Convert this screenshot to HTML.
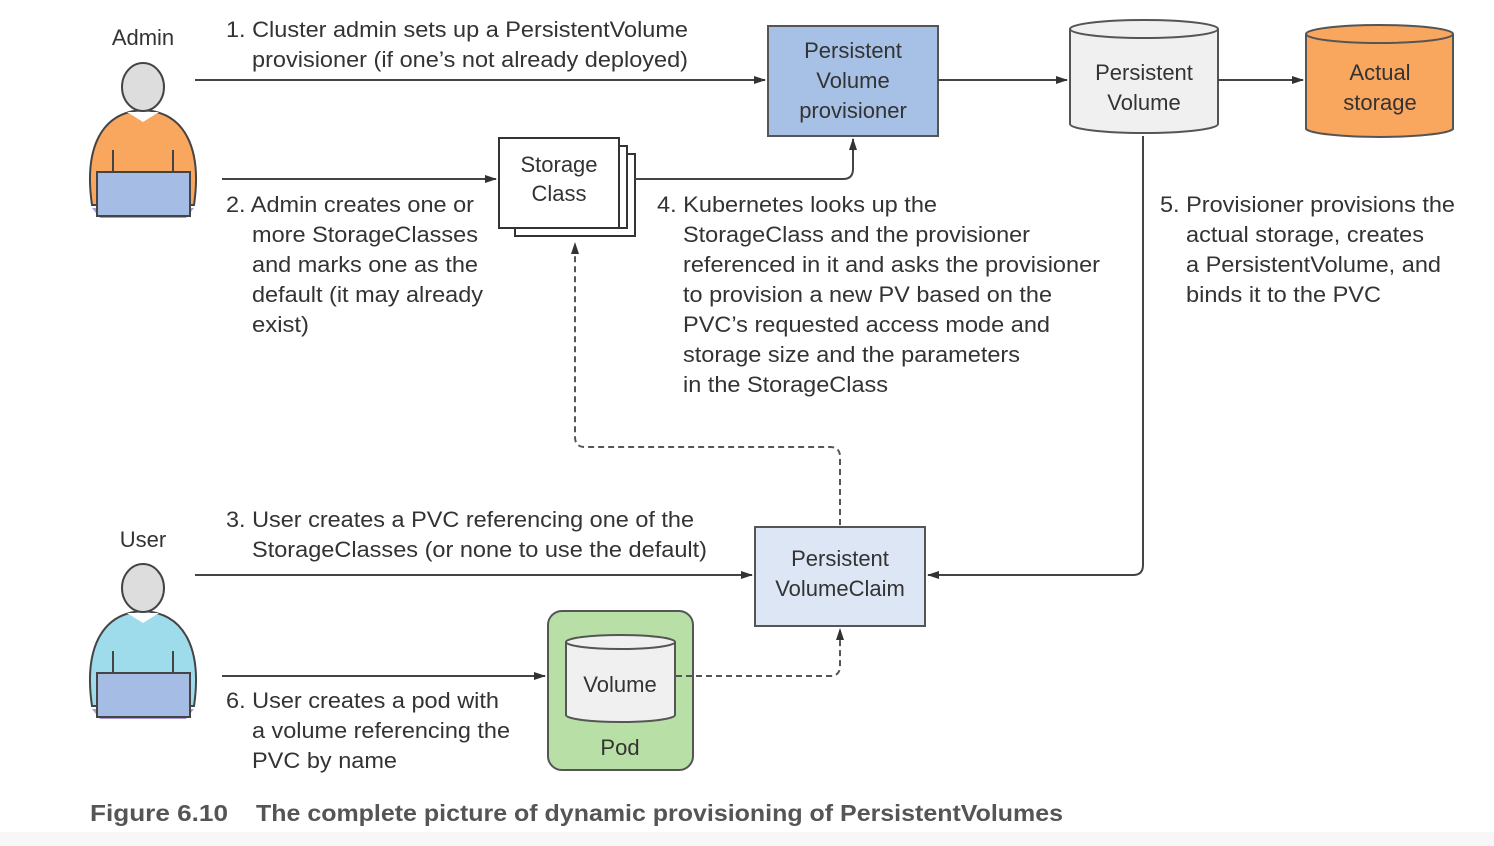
<!DOCTYPE html>
<html><head><meta charset="utf-8"><style>
html,body{margin:0;padding:0;background:#fff;}
svg{display:block;}
text{font-family:"Liberation Sans",sans-serif;fill:#333;font-size:22px;}
</style></head><body>
<svg width="1494" height="846" viewBox="0 0 1494 846" xmlns="http://www.w3.org/2000/svg">
<defs>
<marker id="a" markerWidth="12" markerHeight="10" refX="11" refY="5" orient="auto" markerUnits="userSpaceOnUse">
<path d="M0,1 L12,5 L0,9 z" fill="#333"/></marker>
</defs>
<rect x="0" y="832" width="1494" height="14" fill="#f7f7f7"/>

<g stroke="#444" stroke-width="2">
<path d="M92,205 C84,150 100,112 143,110 C186,112 202,150 194,205 Z" fill="#f9a65f"/>
<path d="M127,112 L143,122 L159,112 Z" fill="#fff" stroke="none"/>
<path d="M113,150 L113,172 M173,150 L173,172" fill="none"/>
<ellipse cx="143" cy="87" rx="21" ry="24" fill="#ddd"/>
<path d="M92,208 L194,208 L186,218 L100,218 Z" fill="#a999d8" stroke="none"/>
<rect x="97" y="172" width="93" height="44" fill="#a5bde4"/>
</g>
<text x="143" y="45" text-anchor="middle">Admin</text>

<g stroke="#444" stroke-width="2">
<path d="M92,706 C84,651 100,613 143,611 C186,613 202,651 194,706 Z" fill="#9edcec"/>
<path d="M127,613 L143,623 L159,613 Z" fill="#fff" stroke="none"/>
<path d="M113,651 L113,673 M173,651 L173,673" fill="none"/>
<ellipse cx="143" cy="588" rx="21" ry="24" fill="#ddd"/>
<path d="M92,709 L194,709 L186,719 L100,719 Z" fill="#a999d8" stroke="none"/>
<rect x="97" y="673" width="93" height="44" fill="#a5bde4"/>
</g>
<text x="143" y="547" text-anchor="middle">User</text>

<rect x="768" y="26" width="170" height="110" fill="#a7c0e6" stroke="#555" stroke-width="2"/>
<text x="853" y="58" text-anchor="middle">Persistent</text>
<text x="853" y="88" text-anchor="middle">Volume</text>
<text x="853" y="118" text-anchor="middle">provisioner</text>

<g stroke="#555" stroke-width="2">
<path d="M1070,29 L1070,124 A74,9 0 0 0 1218,124 L1218,29" fill="#f0f0f0"/>
<ellipse cx="1144" cy="29" rx="74" ry="9" fill="#f0f0f0"/>
<path d="M1306,34 L1306,129 A74,9 0 0 0 1453,129 L1453,34" fill="#f9a65f"/>
<ellipse cx="1379.5" cy="34" rx="73.5" ry="9" fill="#f9a65f"/>
</g>
<text x="1144" y="80" text-anchor="middle">Persistent</text>
<text x="1144" y="110" text-anchor="middle">Volume</text>
<text x="1380" y="80" text-anchor="middle">Actual</text>
<text x="1380" y="110" text-anchor="middle">storage</text>

<g stroke="#333" stroke-width="2" fill="#fff">
<rect x="515" y="154" width="120" height="82"/>
<rect x="507" y="146" width="120" height="82"/>
<rect x="499" y="138" width="120" height="90"/>
</g>
<text x="559" y="172" text-anchor="middle">Storage</text>
<text x="559" y="201" text-anchor="middle">Class</text>

<rect x="755" y="527" width="170" height="99" fill="#dce6f4" stroke="#555" stroke-width="2"/>
<text x="840" y="566" text-anchor="middle">Persistent</text>
<text x="840" y="596" text-anchor="middle">VolumeClaim</text>

<rect x="548" y="611" width="145" height="159" rx="14" fill="#b8dfa6" stroke="#555" stroke-width="2"/>
<g stroke="#555" stroke-width="2">
<path d="M566,642 L566,715 A54.5,7 0 0 0 675,715 L675,642" fill="#f0f0f0"/>
<ellipse cx="620.5" cy="642" rx="54.5" ry="7" fill="#f0f0f0"/>
</g>
<text x="620" y="692" text-anchor="middle">Volume</text>
<text x="620" y="755" text-anchor="middle">Pod</text>

<g stroke="#444" stroke-width="2" fill="none">
<path d="M195,80 L765,80" marker-end="url(#a)"/>
<path d="M938,80 L1067,80" marker-end="url(#a)"/>
<path d="M1218,80 L1303,80" marker-end="url(#a)"/>
<path d="M222,179 L496,179" marker-end="url(#a)"/>
<path d="M635,179 L843,179 Q853,179 853,169 L853,139" marker-end="url(#a)"/>
<path d="M1143,136 L1143,565 Q1143,575 1133,575 L928,575" marker-end="url(#a)"/>
<path d="M195,575 L752,575" marker-end="url(#a)"/>
<path d="M222,676 L545,676" marker-end="url(#a)"/>
</g>
<g stroke="#555" stroke-width="2" fill="none" stroke-dasharray="6,4">
<path d="M840,525 L840,457 Q840,447 830,447 L585,447 Q575,447 575,437 L575,243" marker-end="url(#a)"/>
<path d="M676,676 L830,676 Q840,676 840,666 L840,629" marker-end="url(#a)"/>
</g>

<g lengthAdjust="spacingAndGlyphs">
<text x="226" y="37" textLength="462" lengthAdjust="spacingAndGlyphs">1. Cluster admin sets up a PersistentVolume</text>
<text x="252" y="67" textLength="436" lengthAdjust="spacingAndGlyphs">provisioner (if one’s not already deployed)</text>
<text x="226" y="212" textLength="248" lengthAdjust="spacingAndGlyphs">2. Admin creates one or</text>
<text x="252" y="242" textLength="226" lengthAdjust="spacingAndGlyphs">more StorageClasses</text>
<text x="252" y="272" textLength="226" lengthAdjust="spacingAndGlyphs">and marks one as the</text>
<text x="252" y="302" textLength="231" lengthAdjust="spacingAndGlyphs">default (it may already</text>
<text x="252" y="332" textLength="57" lengthAdjust="spacingAndGlyphs">exist)</text>
<text x="657" y="212" textLength="280" lengthAdjust="spacingAndGlyphs">4. Kubernetes looks up the</text>
<text x="683" y="242" textLength="347" lengthAdjust="spacingAndGlyphs">StorageClass and the provisioner</text>
<text x="683" y="272" textLength="417" lengthAdjust="spacingAndGlyphs">referenced in it and asks the provisioner</text>
<text x="683" y="302" textLength="369" lengthAdjust="spacingAndGlyphs">to provision a new PV based on the</text>
<text x="683" y="332" textLength="367" lengthAdjust="spacingAndGlyphs">PVC’s requested access mode and</text>
<text x="683" y="362" textLength="337" lengthAdjust="spacingAndGlyphs">storage size and the parameters</text>
<text x="683" y="392" textLength="205" lengthAdjust="spacingAndGlyphs">in the StorageClass</text>
<text x="1160" y="212" textLength="295" lengthAdjust="spacingAndGlyphs">5. Provisioner provisions the</text>
<text x="1186" y="242" textLength="238" lengthAdjust="spacingAndGlyphs">actual storage, creates</text>
<text x="1186" y="272" textLength="255" lengthAdjust="spacingAndGlyphs">a PersistentVolume, and</text>
<text x="1186" y="302" textLength="195" lengthAdjust="spacingAndGlyphs">binds it to the PVC</text>
<text x="226" y="527" textLength="468" lengthAdjust="spacingAndGlyphs">3. User creates a PVC referencing one of the</text>
<text x="252" y="557" textLength="455" lengthAdjust="spacingAndGlyphs">StorageClasses (or none to use the default)</text>
<text x="226" y="708" textLength="273" lengthAdjust="spacingAndGlyphs">6. User creates a pod with</text>
<text x="252" y="738" textLength="258" lengthAdjust="spacingAndGlyphs">a volume referencing the</text>
<text x="252" y="768" textLength="145" lengthAdjust="spacingAndGlyphs">PVC by name</text>
</g>

<text x="90" y="821" textLength="138" lengthAdjust="spacingAndGlyphs" style="font-weight:bold;font-size:23px;fill:#555">Figure 6.10</text>
<text x="256" y="821" textLength="807" lengthAdjust="spacingAndGlyphs" style="font-weight:bold;font-size:23px;fill:#555">The complete picture of dynamic provisioning of PersistentVolumes</text>
</svg>
</body></html>
